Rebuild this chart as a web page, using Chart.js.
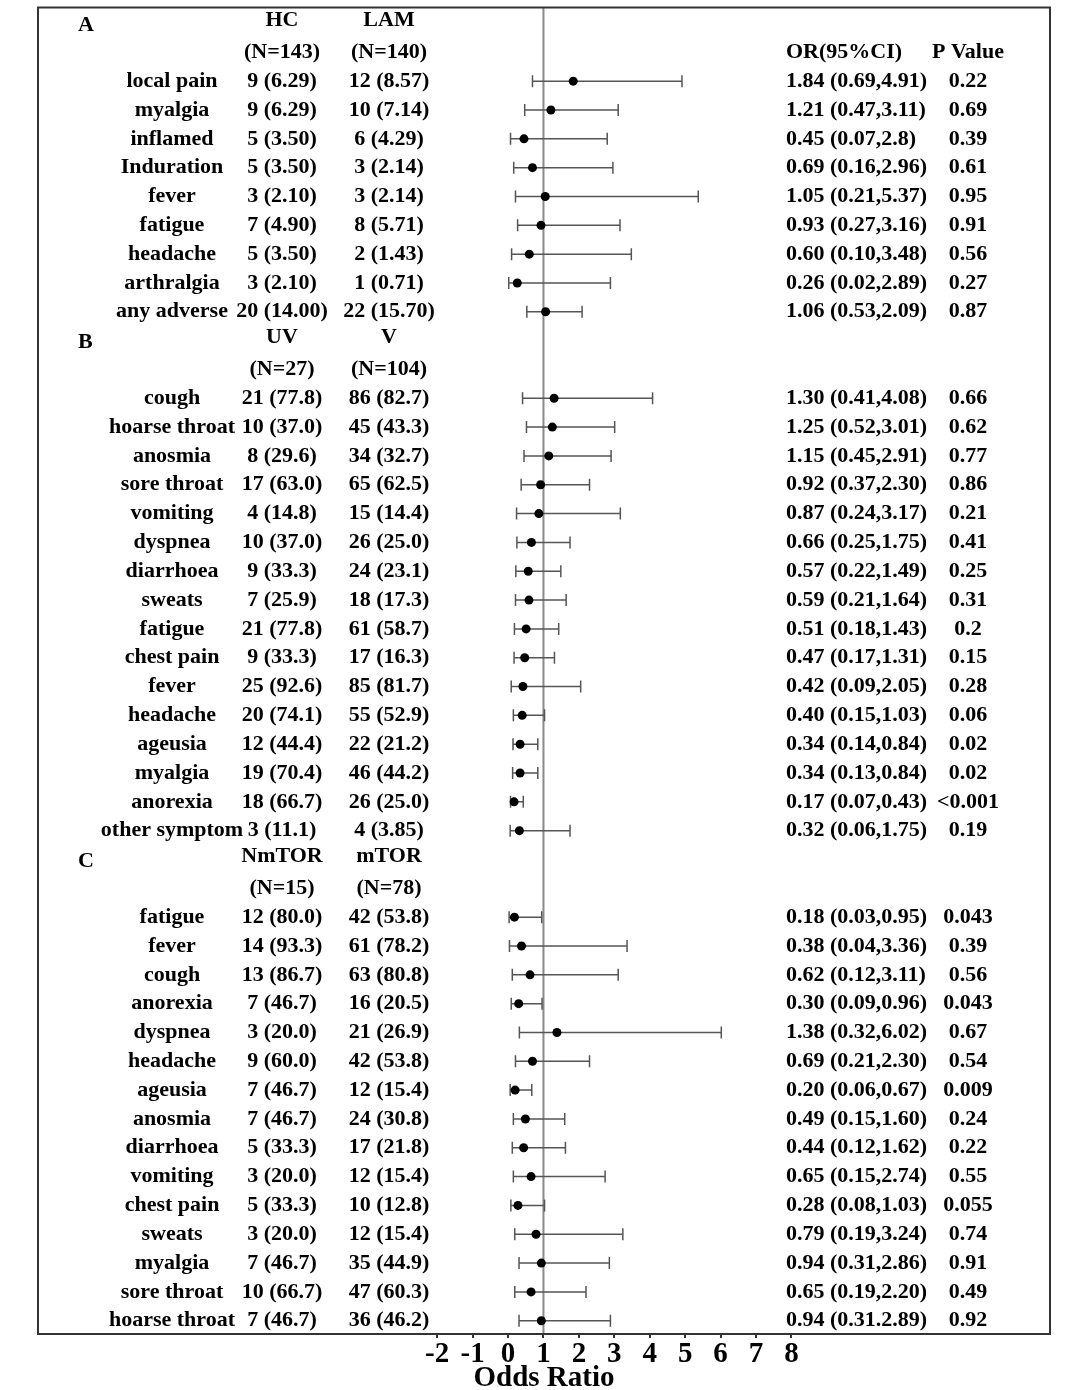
<!DOCTYPE html>
<html>
<head>
<meta charset="utf-8">
<script src="https://cdn.jsdelivr.net/npm/chart.js@4/dist/chart.umd.min.js"></script>
<style>
  html, body { margin: 0; padding: 0; background: #fff; }
  #wrap { width: 1080px; height: 1390px; position: relative; }
</style>
</head>
<body>
<div id="wrap"><canvas id="c" width="1080" height="1390"></canvas></div>
<script>
// ---------- data ----------
const sectionLetters = ['A', 'B', 'C'];
const sectionSizes = [9, 16, 15];
const group1Names = ['HC', 'UV', 'NmTOR'];
const group2Names = ['LAM', 'V', 'mTOR'];
const group1N = ['(N=143)', '(N=27)', '(N=15)'];
const group2N = ['(N=140)', '(N=104)', '(N=78)'];
const rightHeaders = ['OR(95%CI)', 'P Value'];

const symptoms = [
  'local pain','myalgia','inflamed','Induration','fever','fatigue','headache','arthralgia','any adverse',
  'cough','hoarse throat','anosmia','sore throat','vomiting','dyspnea','diarrhoea','sweats','fatigue','chest pain','fever','headache','ageusia','myalgia','anorexia','other symptom',
  'fatigue','fever','cough','anorexia','dyspnea','headache','ageusia','anosmia','diarrhoea','vomiting','chest pain','sweats','myalgia','sore throat','hoarse throat'
];
const group1Counts = [
  '9 (6.29)','9 (6.29)','5 (3.50)','5 (3.50)','3 (2.10)','7 (4.90)','5 (3.50)','3 (2.10)','20 (14.00)',
  '21 (77.8)','10 (37.0)','8 (29.6)','17 (63.0)','4 (14.8)','10 (37.0)','9 (33.3)','7 (25.9)','21 (77.8)','9 (33.3)','25 (92.6)','20 (74.1)','12 (44.4)','19 (70.4)','18 (66.7)','3 (11.1)',
  '12 (80.0)','14 (93.3)','13 (86.7)','7 (46.7)','3 (20.0)','9 (60.0)','7 (46.7)','7 (46.7)','5 (33.3)','3 (20.0)','5 (33.3)','3 (20.0)','7 (46.7)','10 (66.7)','7 (46.7)'
];
const group2Counts = [
  '12 (8.57)','10 (7.14)','6 (4.29)','3 (2.14)','3 (2.14)','8 (5.71)','2 (1.43)','1 (0.71)','22 (15.70)',
  '86 (82.7)','45 (43.3)','34 (32.7)','65 (62.5)','15 (14.4)','26 (25.0)','24 (23.1)','18 (17.3)','61 (58.7)','17 (16.3)','85 (81.7)','55 (52.9)','22 (21.2)','46 (44.2)','26 (25.0)','4 (3.85)',
  '42 (53.8)','61 (78.2)','63 (80.8)','16 (20.5)','21 (26.9)','42 (53.8)','12 (15.4)','24 (30.8)','17 (21.8)','12 (15.4)','10 (12.8)','12 (15.4)','35 (44.9)','47 (60.3)','36 (46.2)'
];
const oddsRatio = [
  1.84,1.21,0.45,0.69,1.05,0.93,0.60,0.26,1.06,
  1.30,1.25,1.15,0.92,0.87,0.66,0.57,0.59,0.51,0.47,0.42,0.40,0.34,0.34,0.17,0.32,
  0.18,0.38,0.62,0.30,1.38,0.69,0.20,0.49,0.44,0.65,0.28,0.79,0.94,0.65,0.94
];
const ciLow = [
  0.69,0.47,0.07,0.16,0.21,0.27,0.10,0.02,0.53,
  0.41,0.52,0.45,0.37,0.24,0.25,0.22,0.21,0.18,0.17,0.09,0.15,0.14,0.13,0.07,0.06,
  0.03,0.04,0.12,0.09,0.32,0.21,0.06,0.15,0.12,0.15,0.08,0.19,0.31,0.19,0.31
];
const ciHigh = [
  4.91,3.11,2.8,2.96,5.37,3.16,3.48,2.89,2.09,
  4.08,3.01,2.91,2.30,3.17,1.75,1.49,1.64,1.43,1.31,2.05,1.03,0.84,0.84,0.43,1.75,
  0.95,3.36,3.11,0.96,6.02,2.30,0.67,1.60,1.62,2.74,1.03,3.24,2.86,2.20,2.89
];
const orText = [
  '1.84 (0.69,4.91)','1.21 (0.47,3.11)','0.45 (0.07,2.8)','0.69 (0.16,2.96)','1.05 (0.21,5.37)','0.93 (0.27,3.16)','0.60 (0.10,3.48)','0.26 (0.02,2.89)','1.06 (0.53,2.09)',
  '1.30 (0.41,4.08)','1.25 (0.52,3.01)','1.15 (0.45,2.91)','0.92 (0.37,2.30)','0.87 (0.24,3.17)','0.66 (0.25,1.75)','0.57 (0.22,1.49)','0.59 (0.21,1.64)','0.51 (0.18,1.43)','0.47 (0.17,1.31)','0.42 (0.09,2.05)','0.40 (0.15,1.03)','0.34 (0.14,0.84)','0.34 (0.13,0.84)','0.17 (0.07,0.43)','0.32 (0.06,1.75)',
  '0.18 (0.03,0.95)','0.38 (0.04,3.36)','0.62 (0.12,3.11)','0.30 (0.09,0.96)','1.38 (0.32,6.02)','0.69 (0.21,2.30)','0.20 (0.06,0.67)','0.49 (0.15,1.60)','0.44 (0.12,1.62)','0.65 (0.15,2.74)','0.28 (0.08,1.03)','0.79 (0.19,3.24)','0.94 (0.31,2.86)','0.65 (0.19,2.20)','0.94 (0.31.2.89)'
];
const pValues = [
  '0.22','0.69','0.39','0.61','0.95','0.91','0.56','0.27','0.87',
  '0.66','0.62','0.77','0.86','0.21','0.41','0.25','0.31','0.2','0.15','0.28','0.06','0.02','0.02','<0.001','0.19',
  '0.043','0.39','0.56','0.043','0.67','0.54','0.009','0.24','0.22','0.55','0.055','0.74','0.91','0.49','0.92'
];
const xTicks = [-2, -1, 0, 1, 2, 3, 4, 5, 6, 7, 8];
const refLine = 1;

// ---------- row layout (each section: header row, N row, items) ----------
const headerRows = [];
const itemRows = [];
{
  let r = 0;
  sectionSizes.forEach(n => {
    headerRows.push(r);
    r += 2;
    for (let k = 0; k < n; k++) itemRows.push(r++);
  });
}

// ---------- datasets ----------
const whiskerData = [];
const capData = [];
const pointData = [];
itemRows.forEach((row, i) => {
  whiskerData.push({x: ciLow[i], y: row}, {x: ciHigh[i], y: row}, {x: null, y: null});
  capData.push({x: ciLow[i], y: row}, {x: ciHigh[i], y: row});
  pointData.push({x: oddsRatio[i], y: row});
});

const FONT = '"Liberation Serif", "Times New Roman", serif';
const TEXT_DY = 0;

const textPlugin = {
  id: 'forestText',
  beforeDatasetsDraw(chart) {
    const {ctx, chartArea, scales} = chart;
    const px = scales.x.getPixelForValue(refLine);
    ctx.save();
    ctx.strokeStyle = '#8a8a8a';
    ctx.lineWidth = 2;
    ctx.beginPath();
    ctx.moveTo(px, chartArea.top);
    ctx.lineTo(px, chartArea.bottom);
    ctx.stroke();
    ctx.restore();
  },
  afterDraw(chart) {
    const {ctx, chartArea, scales} = chart;
    const ys = scales.y;
    ctx.save();
    ctx.fillStyle = '#000';
    ctx.font = 'bold 22px ' + FONT;
    ctx.textBaseline = 'middle';
    const colLabel = 172, col1 = 282, col2 = 389, colOR = 786, colP = 968, colLetter = 78;
    headerRows.forEach((row, s) => {
      const y0 = ys.getPixelForValue(row) + TEXT_DY;
      const y1 = ys.getPixelForValue(row + 1) + TEXT_DY;
      ctx.textAlign = 'left';
      ctx.fillText(sectionLetters[s], colLetter, y0 + 2);
      ctx.textAlign = 'center';
      ctx.fillText(group1Names[s], col1, y0 - 3);
      ctx.fillText(group2Names[s], col2, y0 - 3);
      ctx.fillText(group1N[s], col1, y1);
      ctx.fillText(group2N[s], col2, y1);
      if (s === 0) {
        ctx.textAlign = 'left';
        ctx.fillText(rightHeaders[0], colOR, y1);
        ctx.textAlign = 'center';
        ctx.fillText(rightHeaders[1], colP, y1);
      }
    });
    itemRows.forEach((row, i) => {
      const y = ys.getPixelForValue(row) + TEXT_DY;
      ctx.textAlign = 'center';
      ctx.fillText(symptoms[i], colLabel, y);
      ctx.fillText(group1Counts[i], col1, y);
      ctx.fillText(group2Counts[i], col2, y);
      ctx.fillText(pValues[i], colP, y);
      ctx.textAlign = 'left';
      ctx.fillText(orText[i], colOR, y);
    });
    // frame
    ctx.strokeStyle = '#333';
    ctx.lineWidth = 2;
    ctx.strokeRect(chartArea.left, chartArea.top, chartArea.right - chartArea.left, chartArea.bottom - chartArea.top);
    ctx.restore();
  }
};

new Chart(document.getElementById('c'), {
  type: 'scatter',
  data: {
    datasets: [
      {
        label: 'CI',
        data: whiskerData,
        showLine: true,
        spanGaps: false,
        borderColor: '#555',
        borderWidth: 1.5,
        pointRadius: 0,
        order: 3
      },
      {
        label: 'caps',
        data: capData,
        pointStyle: 'line',
        rotation: 90,
        radius: 6,
        borderColor: '#555',
        borderWidth: 1.5,
        order: 2
      },
      {
        label: 'OR',
        data: pointData,
        pointStyle: 'circle',
        radius: 4.5,
        backgroundColor: '#000',
        borderColor: '#000',
        borderWidth: 0,
        order: 1
      }
    ]
  },
  options: {
    responsive: false,
    animation: false,
    events: [],
    layout: { padding: { left: 38, right: 30, top: 2, bottom: 0 } },
    plugins: { legend: { display: false }, tooltip: { enabled: false } },
    scales: {
      x: {
        type: 'linear',
        min: -13.27,
        max: 15.30,
        afterBuildTicks(scale) { scale.ticks = xTicks.map(v => ({ value: v })); },
        afterFit(scale) { scale.height = 56; },
        ticks: {
          autoSkip: false,
          maxRotation: 0,
          padding: 3,
          color: '#000',
          font: { family: FONT, size: 29, weight: 'bold', lineHeight: 0.9 },
          callback: v => String(v)
        },
        grid: { display: true, drawOnChartArea: false, drawTicks: true, tickLength: 4, color: '#333', lineWidth: 2 },
        border: { display: true, color: '#333', width: 2 },
        title: {
          display: true,
          text: 'Odds Ratio',
          color: '#000',
          padding: { top: 0, bottom: 0 },
          font: { family: FONT, size: 29, weight: 'bold', lineHeight: 0.76 }
        }
      },
      y: {
        type: 'linear',
        display: false,
        reverse: true,
        min: -0.556,
        max: 45.46
      }
    }
  },
  plugins: [textPlugin]
});
</script>
</body>
</html>
